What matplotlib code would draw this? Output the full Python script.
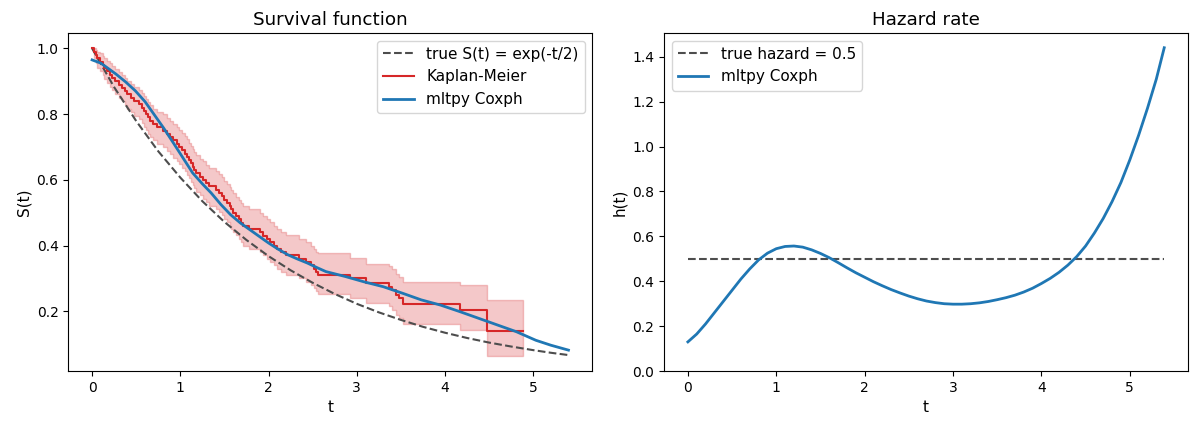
import numpy as np
import matplotlib
matplotlib.use("Agg")
import matplotlib.pyplot as plt

plt.rcParams['font.size'] = 11
plt.rcParams['xtick.labelsize'] = 10
plt.rcParams['ytick.labelsize'] = 10

# true survival curve
true_t = [0.0, 0.25, 0.5, 0.75, 1.0, 1.25, 1.5, 1.75, 2.0, 2.25, 2.5, 2.75, 3.0,
          3.25, 3.5, 3.75, 4.0, 4.25, 4.5, 4.75, 5.0, 5.2, 5.4]
true_s = [1.0, 0.882, 0.779, 0.687, 0.607, 0.535, 0.472, 0.417, 0.368, 0.325,
          0.287, 0.253, 0.223, 0.197, 0.174, 0.153, 0.135, 0.119, 0.105, 0.093,
          0.082, 0.074, 0.067]

# Kaplan-Meier steps with confidence band
km_t = [0.00, 0.02, 0.04, 0.06, 0.09, 0.12, 0.14, 0.17, 0.20, 0.22,
        0.26, 0.30, 0.34, 0.37, 0.40, 0.44, 0.47, 0.53, 0.57, 0.59,
        0.61, 0.63, 0.66, 0.69, 0.73, 0.80, 0.85, 0.88, 0.92, 0.96,
        0.99, 1.02, 1.05, 1.08, 1.10, 1.12, 1.14, 1.16, 1.18, 1.22,
        1.26, 1.29, 1.32, 1.40, 1.44, 1.47, 1.50, 1.53, 1.56, 1.58,
        1.60, 1.63, 1.66, 1.69, 1.71, 1.78, 1.90, 1.94, 1.98, 2.02,
        2.06, 2.10, 2.14, 2.20, 2.34, 2.42, 2.48, 2.52, 2.54, 2.56,
        2.92, 3.10, 3.36, 3.40, 3.44, 3.48, 3.52, 4.17, 4.48, 4.88]
km_s = [1.00, 0.99, 0.98, 0.97, 0.96, 0.95, 0.94, 0.93, 0.92, 0.91,
        0.90, 0.89, 0.88, 0.87, 0.86, 0.85, 0.84, 0.83, 0.82, 0.81,
        0.80, 0.79, 0.78, 0.77, 0.76, 0.75, 0.74, 0.73, 0.72, 0.71,
        0.70, 0.69, 0.68, 0.67, 0.66, 0.65, 0.64, 0.63, 0.62, 0.61,
        0.60, 0.59, 0.58, 0.57, 0.56, 0.55, 0.54, 0.53, 0.52, 0.51,
        0.50, 0.49, 0.48, 0.47, 0.46, 0.45, 0.44, 0.43, 0.42, 0.41,
        0.40, 0.39, 0.38, 0.37, 0.36, 0.35, 0.34, 0.33, 0.32, 0.31,
        0.30, 0.285, 0.275, 0.265, 0.25, 0.24, 0.222, 0.205, 0.14, 0.14]
km_hi = [1.00, 1.00, 0.995, 0.99, 0.985, 0.978, 0.97, 0.962, 0.955, 0.946,
         0.937, 0.928, 0.919, 0.91, 0.90, 0.891, 0.882, 0.873, 0.864, 0.855,
         0.845, 0.836, 0.827, 0.817, 0.808, 0.799, 0.789, 0.78, 0.77, 0.761,
         0.751, 0.742, 0.732, 0.723, 0.713, 0.704, 0.694, 0.685, 0.675, 0.665,
         0.656, 0.646, 0.637, 0.627, 0.617, 0.608, 0.598, 0.588, 0.579, 0.569,
         0.559, 0.549, 0.54, 0.53, 0.52, 0.51, 0.50, 0.49, 0.48, 0.471,
         0.461, 0.451, 0.441, 0.431, 0.421, 0.411, 0.40, 0.39, 0.382, 0.376,
         0.362, 0.345, 0.337, 0.328, 0.315, 0.305, 0.29, 0.28, 0.236, 0.236]
km_lo = [1.00, 0.97, 0.955, 0.94, 0.93, 0.918, 0.906, 0.895, 0.883, 0.872,
         0.861, 0.85, 0.839, 0.828, 0.817, 0.806, 0.795, 0.784, 0.773, 0.762,
         0.752, 0.741, 0.731, 0.72, 0.71, 0.699, 0.689, 0.678, 0.668, 0.657,
         0.647, 0.636, 0.626, 0.615, 0.605, 0.595, 0.584, 0.574, 0.564, 0.553,
         0.543, 0.533, 0.522, 0.512, 0.502, 0.492, 0.482, 0.471, 0.461, 0.451,
         0.441, 0.431, 0.42, 0.41, 0.40, 0.39, 0.38, 0.37, 0.36, 0.35,
         0.34, 0.33, 0.32, 0.31, 0.30, 0.29, 0.28, 0.27, 0.262, 0.252,
         0.24, 0.225, 0.215, 0.205, 0.19, 0.18, 0.163, 0.143, 0.065, 0.065]

# Coxph survival curve
cox_t = [0.0, 0.1, 0.27, 0.38, 0.49, 0.6, 0.70, 0.81, 0.92, 1.03, 1.14, 1.25,
         1.35, 1.46, 1.57, 1.68, 1.79, 1.9, 2.0, 2.11, 2.22, 2.33, 2.44, 2.55,
         2.65, 2.87, 3.08, 3.30, 3.52, 3.73, 3.95, 4.17, 4.38, 4.60, 4.81,
         5.03, 5.20, 5.40]
cox_s = [0.965, 0.955, 0.922, 0.898, 0.871, 0.838, 0.80, 0.758, 0.713, 0.667,
         0.621, 0.588, 0.56, 0.525, 0.494, 0.469, 0.448, 0.427, 0.408, 0.389,
         0.372, 0.359, 0.347, 0.333, 0.321, 0.306, 0.29, 0.275, 0.255, 0.235,
         0.219, 0.199, 0.179, 0.158, 0.138, 0.112, 0.097, 0.082]

# hazard rate
haz_t = [0.0, 0.1, 0.2, 0.3, 0.4, 0.5, 0.6, 0.7, 0.8, 0.9, 1.0, 1.1, 1.2, 1.3,
         1.4, 1.5, 1.6, 1.7, 1.8, 1.9, 2.0, 2.1, 2.2, 2.3, 2.4, 2.5, 2.6, 2.7,
         2.8, 2.9, 3.0, 3.1, 3.2, 3.3, 3.4, 3.5, 3.6, 3.7, 3.8, 3.9, 4.0, 4.1,
         4.2, 4.3, 4.4, 4.5, 4.6, 4.7, 4.8, 4.9, 5.0, 5.1, 5.2, 5.3, 5.39]
haz_h = [0.13, 0.165, 0.21, 0.26, 0.31, 0.36, 0.41, 0.455, 0.495, 0.525, 0.545,
         0.555, 0.557, 0.552, 0.54, 0.524, 0.505, 0.483, 0.46, 0.438, 0.418,
         0.398, 0.38, 0.363, 0.348, 0.334, 0.322, 0.312, 0.305, 0.30, 0.298,
         0.298, 0.30, 0.304, 0.31, 0.318, 0.327, 0.338, 0.352, 0.369, 0.39,
         0.413, 0.44, 0.472, 0.51, 0.557, 0.615, 0.68, 0.755, 0.84, 0.94,
         1.05, 1.17, 1.30, 1.44]
true_hazard = 0.5

fig, (ax1, ax2) = plt.subplots(1, 2, figsize=(11.98, 4.29), dpi=100)
fig.subplots_adjust(left=0.057, right=0.9917, top=0.923, bottom=0.135, wspace=0.137)

ax1.plot(true_t, true_s, '--', color='0.3', lw=1.5, label='true S(t) = exp(-t/2)')
ax1.step(km_t, km_s, where='post', color='tab:red', lw=1.5, label='Kaplan-Meier')
ax1.fill_between(km_t, km_lo, km_hi, step='post', color='tab:red', alpha=0.25)
ax1.plot(cox_t, cox_s, color='tab:blue', lw=2, label='mltpy Coxph')
ax1.set_xlabel('t')
ax1.set_ylabel('S(t)')
ax1.set_title('Survival function')
ax1.legend(loc='upper right')

ax2.plot([haz_t[0], haz_t[-1]], [true_hazard, true_hazard], '--', color='0.3', lw=1.5,
         label='true hazard = 0.5')
ax2.plot(haz_t, haz_h, color='tab:blue', lw=2, label='mltpy Coxph')
ax2.set_ylim(bottom=0)
ax2.set_xlabel('t')
ax2.set_ylabel('h(t)')
ax2.set_title('Hazard rate')
ax2.legend(loc='upper left')

plt.savefig('out.png', dpi=100)
